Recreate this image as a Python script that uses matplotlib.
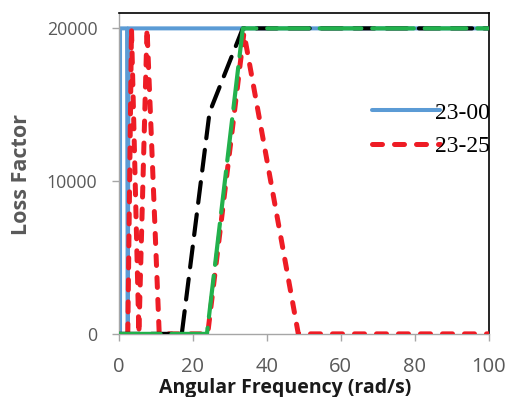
import numpy as np
import matplotlib
matplotlib.use('Agg')
import matplotlib.pyplot as plt

# series (x = angular frequency rad/s, y = loss factor)
x_2300 = [0.3, 0.3, 2.2, 2.4, 2.6, 100]
y_2300 = [0, 20000, 20000, 0, 20000, 20000]

x_2325 = [2.4, 3.4, 5.4, 7.6, 10.9, 24, 33.8, 48.5, 100]
y_2325 = [0, 20000, 0, 20000, 0, 0, 19700, 0, 0]

x_black = [0, 17, 24.5, 33.5, 100]
y_black = [0, 0, 14500, 20000, 20000]

x_green = [0, 23.8, 33.5, 100]
y_green = [0, 0, 20000, 20000]

xticks = [0, 20, 40, 60, 80, 100]
yticks = [0, 10000, 20000]

grey = '#595959'
fig = plt.figure(figsize=(5.06, 3.97), dpi=100)
ax = fig.add_axes([0.235, 0.159, 0.731, 0.808])

ax.plot(x_2300, y_2300, color='#5B9BD5', lw=2.9, solid_capstyle='round', label='23-00', zorder=2)
ax.plot(x_2325, y_2325, color='#EE1C25', lw=3.6, dashes=(2.0, 2.4), dash_capstyle='round', label='23-25', zorder=3)
ax.plot(x_black, y_black, color='black', lw=3.0, dashes=(5.0, 2.8), dash_capstyle='round', zorder=4)
ax.plot(x_green, y_green, color='#22B14C', lw=3.0, dashes=(10, 2.6), dash_capstyle='round', zorder=5)

ax.set_xlim(0, 100)
ax.set_ylim(0, 21000)
ax.set_xticks(xticks)
ax.set_yticks(yticks)
for s in ['left', 'bottom']:
    ax.spines[s].set_color('#A6A6A6')
    ax.spines[s].set_linewidth(1.0)
for s in ['top', 'right']:
    ax.spines[s].set_color('black')
    ax.spines[s].set_linewidth(1.2)
ax.tick_params(axis='both', colors='#A6A6A6', labelcolor=grey, length=5, width=1.0)
ax.tick_params(axis='x', labelsize=14.5, pad=12)
ax.tick_params(axis='y', labelsize=12.8, pad=10.5)
for lab in ax.get_xticklabels() + ax.get_yticklabels():
    lab.set_family('Open Sans')

ax.set_xlabel('Angular Frequency (rad/s)', fontsize=14, fontweight='bold', family='Open Sans', color='#1a1a1a')
ax.set_ylabel('Loss Factor', fontsize=15.5, fontweight='bold', family='Open Sans', color=grey)
ax.xaxis.set_label_coords(0.449, -0.137)
ax.yaxis.set_label_coords(-0.235, 0.498)

ax.legend(loc='center left', bbox_to_anchor=(0.684, 0.637), frameon=False,
          prop={'family': 'Liberation Serif', 'size': 17},
          handlelength=2.88, handletextpad=-0.21, labelspacing=0.5, borderpad=0, borderaxespad=0)

fig.savefig('out.png', dpi=100)
